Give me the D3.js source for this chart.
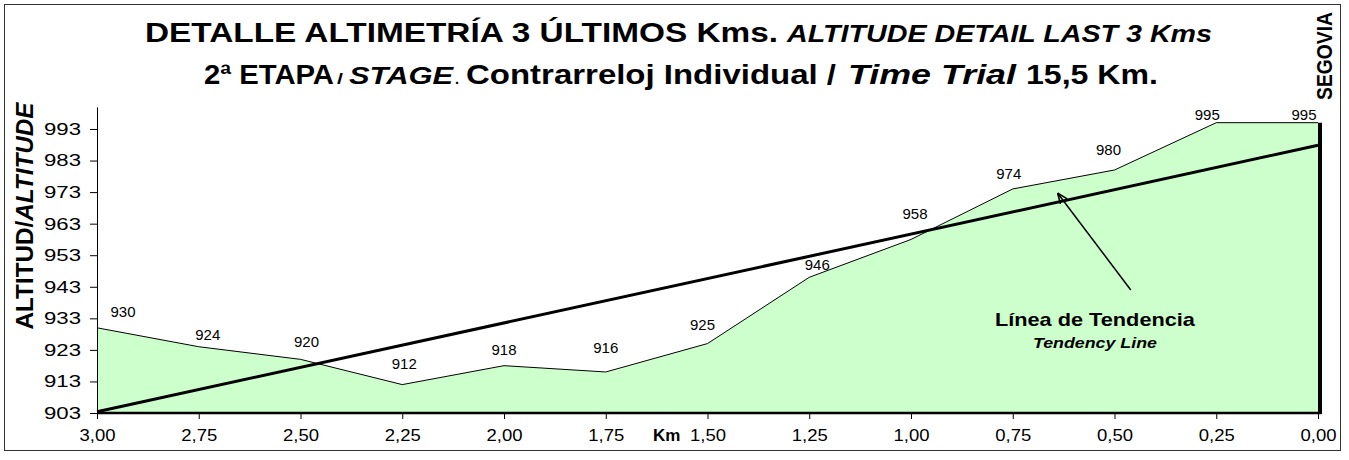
<!DOCTYPE html>
<html>
<head>
<meta charset="utf-8">
<script src="https://cdn.jsdelivr.net/npm/d3@7"></script>
<style>
  body { margin: 0; background: #fff; }
  svg { display: block; font-family: "Liberation Sans", Arial, sans-serif; }
</style>
</head>
<body>
<svg id="chart"></svg>
<script>
// data read from the profile
const kms = [3.00, 2.75, 2.50, 2.25, 2.00, 1.75, 1.50, 1.25, 1.00, 0.75, 0.50, 0.25, 0.00];
const altitudes = [930, 924, 920, 912, 918, 916, 925, 946, 958, 974, 980, 995, 995];
const yTicks = [903, 913, 923, 933, 943, 953, 963, 973, 983, 993];
const xTicks = [3.00, 2.75, 2.50, 2.25, 2.00, 1.75, 1.50, 1.25, 1.00, 0.75, 0.50, 0.25, 0.00];
const altMin = 903, altMax = 1000;

// label nudges (px) so the value labels sit like in the original
const labelNudge = [[26, -16], [9, -12], [6, -17], [2, -21], [0, -16], [0, -24], [-5, -19],
  [8, -12], [4, -25], [-4, -15], [-6, -20], [-9, -8], [-14, -8]];

const W = 1349, H = 460;
const svg = d3.select("#chart").attr("width", W).attr("height", H);

// outer frame
svg.append("rect")
  .attr("x", 4.5).attr("y", 4.5)
  .attr("width", 1336).attr("height", 446)
  .attr("fill", "none").attr("stroke", "#333").attr("stroke-width", 1);

const x = d3.scaleLinear().domain([3, 0]).range([97, 1318]);
const y = d3.scaleLinear().domain([altMin, altMax]).range([413, 106.9]);

const points = kms.map((k, i) => ({ km: k, alt: altitudes[i] }));

// profile area
const area = d3.area()
  .x(d => x(d.km))
  .y0(y(altMin))
  .y1(d => y(d.alt));
svg.append("path")
  .datum(points)
  .attr("fill", "#CCFFCC")
  .attr("d", area);

const line = d3.line()
  .x(d => x(d.km))
  .y(d => y(d.alt));
svg.append("path")
  .datum(points)
  .attr("fill", "none")
  .attr("stroke", "#000")
  .attr("stroke-width", 1)
  .attr("d", line);

// trend line (least squares over the points, like Excel)
const mx = d3.mean(points, d => d.km), my = d3.mean(points, d => d.alt);
const slope = d3.sum(points, d => (d.km - mx) * (d.alt - my)) / d3.sum(points, d => (d.km - mx) ** 2);
const trend = [3, 0].map(k => ({ km: k, alt: my + slope * (k - mx) }));
svg.append("path")
  .datum(trend)
  .attr("fill", "none")
  .attr("stroke", "#000")
  .attr("stroke-width", 3)
  .attr("d", line);

// x axis
const xAxis = d3.axisBottom(x)
  .tickValues(xTicks)
  .tickSize(6)
  .tickSizeOuter(0)
  .tickPadding(10)
  .tickFormat(d => d3.format(".2f")(d).replace(".", ","));
const gx = svg.append("g")
  .attr("transform", "translate(0," + y(altMin) + ")")
  .call(xAxis);
gx.select(".domain").remove();
gx.selectAll("line").attr("stroke", "#000");
gx.selectAll("text")
  .attr("font-size", 17)
  .attr("font-family", "Liberation Sans, Arial, sans-serif")
  .attr("fill", "#000")
  .attr("textLength", 36)
  .attr("lengthAdjust", "spacingAndGlyphs");

// y axis
const yAxis = d3.axisLeft(y)
  .tickValues(yTicks)
  .tickSize(7)
  .tickSizeOuter(0)
  .tickPadding(9);
const gy = svg.append("g")
  .attr("transform", "translate(" + x(3) + ",0)")
  .call(yAxis);
gy.select(".domain").attr("stroke", "#000");
gy.selectAll("line").attr("stroke", "#000");
gy.selectAll("text")
  .attr("font-size", 17)
  .attr("font-family", "Liberation Sans, Arial, sans-serif")
  .attr("fill", "#000")
  .attr("textLength", 37)
  .attr("lengthAdjust", "spacingAndGlyphs");

// thick base line and finish line
svg.append("line")
  .attr("x1", x(3)).attr("x2", x(0) + 3)
  .attr("y1", y(altMin)).attr("y2", y(altMin))
  .attr("stroke", "#000").attr("stroke-width", 2.5);
svg.append("line")
  .attr("x1", x(0) + 2).attr("x2", x(0) + 2)
  .attr("y1", y(altitudes[altitudes.length - 1])).attr("y2", y(altMin) + 1)
  .attr("stroke", "#000").attr("stroke-width", 4);

// value labels
svg.append("g").selectAll("text")
  .data(points)
  .join("text")
  .attr("x", (d, i) => x(d.km) + labelNudge[i][0])
  .attr("y", (d, i) => y(d.alt) + labelNudge[i][1] + 5)
  .attr("text-anchor", "middle")
  .attr("font-size", 15)
  .text(d => d.alt);

// "Km" axis label
svg.append("text")
  .attr("x", (x(1.75) + x(1.5)) / 2 + 10)
  .attr("y", 441)
  .attr("text-anchor", "middle")
  .attr("font-size", 17)
  .attr("font-weight", "bold")
  .text("Km");

// titles: pieces stretched to the widths of the (widened) original
const titleParts = [
  { t: "DETALLE ALTIMETRÍA 3 ÚLTIMOS Kms.", x: 145, y: 42, w: 633, s: 27, it: false },
  { t: "ALTITUDE DETAIL LAST 3 Kms", x: 787, y: 42, w: 425, s: 24, it: true },
  { t: "2ª ETAPA", x: 204, y: 84, w: 130, s: 27, it: false },
  { t: "/", x: 337, y: 84, w: 6, s: 15, it: false },
  { t: "STAGE", x: 349, y: 84, w: 104, s: 23, it: true },
  { t: ".", x: 455, y: 84, w: 4, s: 15, it: false },
  { t: "Contrarreloj Individual /", x: 466, y: 84, w: 370, s: 27, it: false },
  { t: "Time Trial", x: 848, y: 84, w: 168, s: 27, it: true },
  { t: "15,5 Km.", x: 1026, y: 84, w: 132, s: 27, it: false }
];
svg.append("g").selectAll("text")
  .data(titleParts)
  .join("text")
  .attr("x", d => d.x)
  .attr("y", d => d.y)
  .attr("font-size", d => d.s)
  .attr("font-weight", "bold")
  .attr("font-style", d => d.it ? "italic" : "normal")
  .attr("textLength", d => d.w)
  .attr("lengthAdjust", "spacingAndGlyphs")
  .text(d => d.t);

// y axis title (widened like the rest of the picture)
const yTitle = svg.append("text")
  .attr("transform", "translate(33,216) rotate(-90) scale(1,1.12)")
  .attr("text-anchor", "middle")
  .attr("font-size", 22)
  .attr("font-weight", "bold")
  .attr("textLength", 227)
  .attr("lengthAdjust", "spacingAndGlyphs");
yTitle.append("tspan").text("ALTITUD/");
yTitle.append("tspan").attr("font-style", "italic").text("ALTITUDE");

// finish town
svg.append("text")
  .attr("transform", "translate(1332,100) rotate(-90) scale(1,1.2)")
  .attr("font-size", 18)
  .attr("font-weight", "bold")
  .attr("textLength", 88)
  .attr("lengthAdjust", "spacingAndGlyphs")
  .text("SEGOVIA");

// trend annotation
const arrowFrom = [0.46, 942], arrowTo = [0.64, 972.7];
const noteAt = [0.548, 930.6];
svg.append("defs").append("marker")
  .attr("id", "head")
  .attr("viewBox", "0 0 10 10")
  .attr("refX", 10).attr("refY", 5)
  .attr("markerWidth", 7).attr("markerHeight", 7)
  .attr("orient", "auto")
  .append("path")
  .attr("d", "M0,1 L10,5 L0,9")
  .attr("fill", "none").attr("stroke", "#000").attr("stroke-width", 1.5);
svg.append("line")
  .attr("x1", x(arrowFrom[0])).attr("y1", y(arrowFrom[1]))
  .attr("x2", x(arrowTo[0])).attr("y2", y(arrowTo[1]))
  .attr("stroke", "#000").attr("stroke-width", 1.5)
  .attr("marker-end", "url(#head)");
svg.append("text")
  .attr("x", x(noteAt[0])).attr("y", y(noteAt[1]))
  .attr("text-anchor", "middle")
  .attr("font-size", 19)
  .attr("font-weight", "bold")
  .attr("textLength", 200)
  .attr("lengthAdjust", "spacingAndGlyphs")
  .text("Línea de Tendencia");
svg.append("text")
  .attr("x", x(noteAt[0])).attr("y", y(noteAt[1]) + 22)
  .attr("text-anchor", "middle")
  .attr("font-size", 15)
  .attr("font-weight", "bold")
  .attr("font-style", "italic")
  .attr("textLength", 124)
  .attr("lengthAdjust", "spacingAndGlyphs")
  .text("Tendency Line");
</script>
</body>
</html>
